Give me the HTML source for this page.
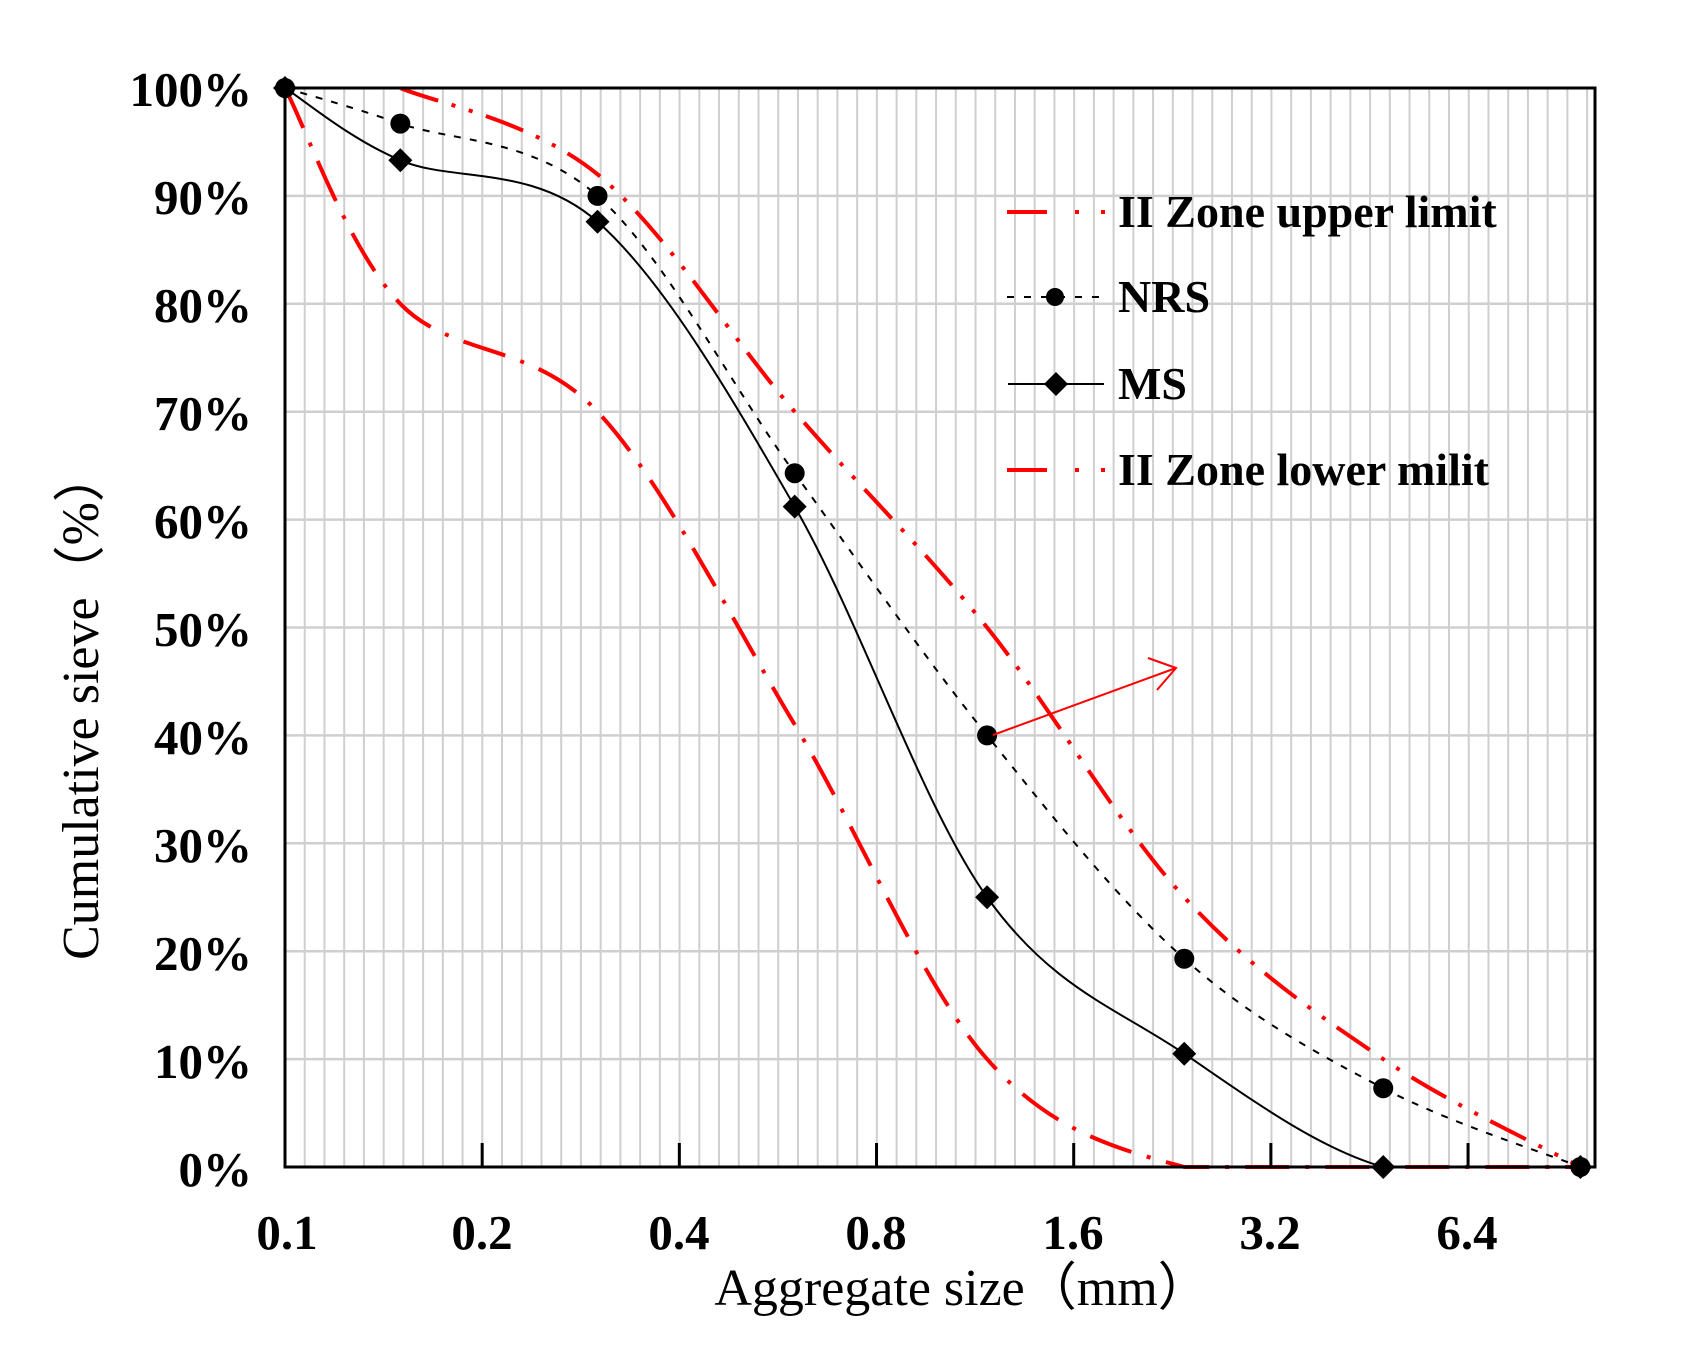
<!DOCTYPE html>
<html><head><meta charset="utf-8"><style>
html,body{margin:0;padding:0;background:#fff;}
svg{display:block;}
text{font-family:"Liberation Serif",serif;}
</style></head><body>
<svg id="s" width="1683" height="1356" viewBox="0 0 1683 1356" xmlns="http://www.w3.org/2000/svg">
<g id="grid"></g>
<g id="series"></g>
<rect x="285" y="88" width="1310" height="1079" fill="none" stroke="#000" stroke-width="3"/>
<g id="ticks"></g>
<g font-weight="bold" font-size="49" text-anchor="end" fill="#000">
<text x="252" y="106">100%</text>
<text x="252" y="214">90%</text>
<text x="252" y="322">80%</text>
<text x="252" y="430">70%</text>
<text x="252" y="538">60%</text>
<text x="252" y="646">50%</text>
<text x="252" y="754">40%</text>
<text x="252" y="862">30%</text>
<text x="252" y="970">20%</text>
<text x="252" y="1078">10%</text>
<text x="252" y="1186">0%</text>
</g>
<g font-weight="bold" font-size="49" text-anchor="middle" fill="#000">
<text x="287" y="1249">0.1</text>
<text x="482" y="1249">0.2</text>
<text x="679" y="1249">0.4</text>
<text x="876" y="1249">0.8</text>
<text x="1073" y="1249">1.6</text>
<text x="1270" y="1249">3.2</text>
<text x="1467" y="1249">6.4</text>
</g>
<text x="962" y="1305" font-size="52" text-anchor="middle">Aggregate size（mm）</text>
<text transform="translate(98,705) rotate(-90)" font-size="52" text-anchor="middle">Cumulative sieve（%）</text>
<g font-weight="bold" font-size="46" fill="#000">
<line x1="1007" y1="212" x2="1105" y2="212" stroke="#f00" stroke-width="4" stroke-dasharray="40,28,4,22,4,100"/>
<text x="1118" y="227">II Zone upper limit</text>
<line x1="1007" y1="297" x2="1100" y2="297" stroke="#000" stroke-width="2" stroke-dasharray="7,10"/>
<circle cx="1055" cy="297" r="9" fill="#000"/>
<text x="1118" y="312">NRS</text>
<line x1="1008" y1="384" x2="1104" y2="384" stroke="#000" stroke-width="2"/>
<polygon points="1056,372 1068,384 1056,396 1044,384" fill="#000"/>
<text x="1118" y="399">MS</text>
<line x1="1007" y1="470" x2="1105" y2="470" stroke="#f00" stroke-width="4" stroke-dasharray="40,28,4,22,4,100"/>
<text x="1118" y="485">II Zone lower milit</text>
</g>
<line x1="993" y1="735" x2="1176" y2="668" stroke="#f00" stroke-width="2"/>
<polyline points="1148,658 1176,668 1157,690" fill="none" stroke="#f00" stroke-width="2"/>
</svg>
<script>
var L=285,W=1310,T=88,H=1079;
function X(v){return L+Math.log10(v/0.1)/2*W;}
function Y(p){return T+(100-p)/100*H;}
var ns="http://www.w3.org/2000/svg";
function el(par,tag,attrs){var e=document.createElementNS(ns,tag);for(var k in attrs)e.setAttribute(k,attrs[k]);document.getElementById(par).appendChild(e);return e;}
for(var k=1;k<67;k++){var x=L+k*W/66.4;if(x>=L+W-3)break;el("grid","line",{x1:x,y1:T,x2:x,y2:T+H,stroke:"#cfcfcf","stroke-width":2});}
for(var p=10;p<100;p+=10){el("grid","line",{x1:L,y1:Y(p),x2:L+W,y2:Y(p),stroke:"#cfcfcf","stroke-width":2.5});}
[0.2,0.4,0.8,1.6,3.2,6.4].forEach(function(v){el("ticks","line",{x1:X(v),y1:T+H,x2:X(v),y2:T+H-24,stroke:"#000","stroke-width":3});});
var xs=[0.1,0.15,0.3,0.6,1.18,2.36,4.75,9.5];
function cl(y){return Math.max(T,Math.min(T+H,y));}
function path(vals,startIdx){var pts=[];for(var i=startIdx;i<xs.length;i++)pts.push([X(xs[i]),Y(vals[i])]);
var d="M"+pts[0][0]+","+pts[0][1];for(var i=0;i<pts.length-1;i++){var p0=pts[i-1]||pts[i],p1=pts[i],p2=pts[i+1],p3=pts[i+2]||p2;var t=6;
var c1y=cl(p1[1]+(p2[1]-p0[1])/t),c2y=cl(p2[1]-(p3[1]-p1[1])/t);
if(p1[1]==p2[1]){c1y=p1[1];c2y=p2[1];}
d+=" C"+(p1[0]+(p2[0]-p0[0])/t)+","+c1y+" "+(p2[0]-(p3[0]-p1[0])/t)+","+c2y+" "+p2[0]+","+p2[1];}
return d;}
var up=[100,100,92,70,50,25,10,0],lo=[100,80,70,41,10,0,0,0],nrs=[100,96.7,90,64.3,40,19.3,7.3,0],ms=[100,93.3,87.6,61.2,25,10.5,0,0];
el("series","path",{d:path(up,1),fill:"none",stroke:"#f00","stroke-width":4,"stroke-dasharray":"40,14,4,14,4,14"});
el("series","path",{d:path(lo,0),fill:"none",stroke:"#f00","stroke-width":4,"stroke-dasharray":"44,16,4,16"});
el("series","path",{d:path(nrs,0),fill:"none",stroke:"#000","stroke-width":2,"stroke-dasharray":"7,9"});
el("series","path",{d:path(ms,0),fill:"none",stroke:"#000","stroke-width":2});
for(var i=0;i<xs.length;i++){
 el("series","circle",{cx:X(xs[i]),cy:Y(nrs[i]),r:10,fill:"#000"});
 var x=X(xs[i]),y=Y(ms[i]);
 el("series","polygon",{points:(x)+","+(y-12)+" "+(x+12)+","+y+" "+x+","+(y+12)+" "+(x-12)+","+y,fill:"#000"});
}
</script>
</body></html>
